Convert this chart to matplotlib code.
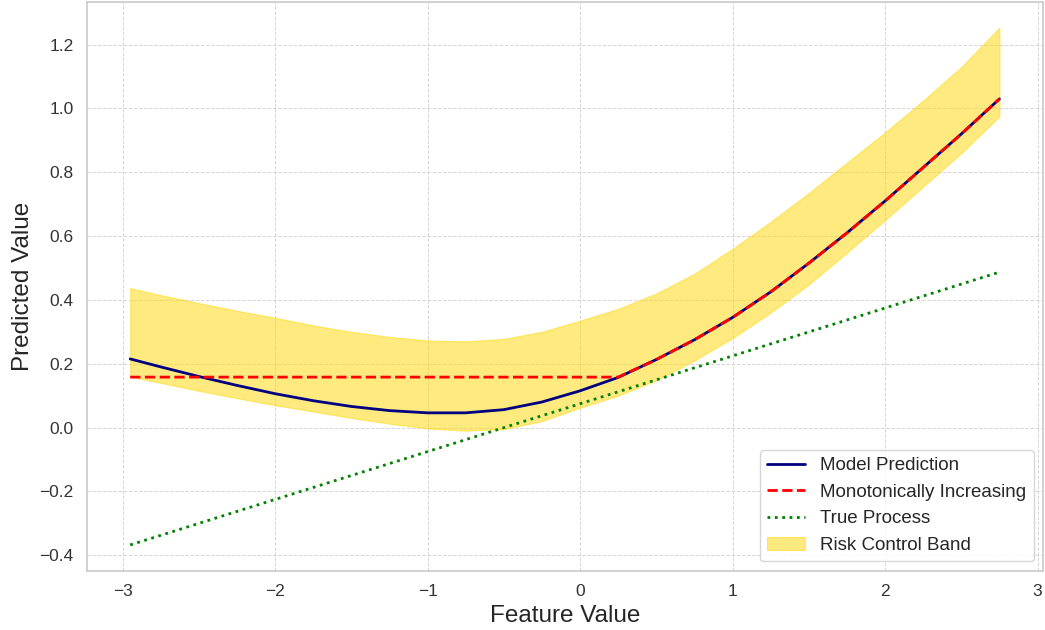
import numpy as np
import matplotlib
matplotlib.use("Agg")
import matplotlib.pyplot as plt
import seaborn as sns

# values
x = [-2.95, -2.75, -2.5, -2.25, -2.0, -1.75, -1.5, -1.25, -1.0, -0.75, -0.5, -0.25,
     0.0, 0.25, 0.5, 0.75, 1.0, 1.25, 1.5, 1.75, 2.0, 2.25, 2.5, 2.75]
model = [0.215, 0.190, 0.160, 0.132, 0.106, 0.084, 0.066, 0.053, 0.046, 0.046, 0.056, 0.080,
         0.115, 0.157, 0.213, 0.275, 0.345, 0.425, 0.515, 0.610, 0.710, 0.815, 0.920, 1.030]
mono = [0.158, 0.158, 0.158, 0.158, 0.158, 0.158, 0.158, 0.158, 0.158, 0.158, 0.158, 0.158,
        0.158, 0.158, 0.213, 0.275, 0.345, 0.425, 0.515, 0.610, 0.710, 0.815, 0.920, 1.030]
upper = [0.437, 0.415, 0.390, 0.366, 0.344, 0.320, 0.300, 0.284, 0.273, 0.270, 0.278, 0.300,
         0.335, 0.372, 0.420, 0.482, 0.560, 0.645, 0.735, 0.830, 0.925, 1.025, 1.130, 1.253]
lower = [0.159, 0.140, 0.115, 0.092, 0.070, 0.050, 0.030, 0.012, -0.003, -0.010, -0.005, 0.020,
         0.062, 0.100, 0.148, 0.210, 0.280, 0.360, 0.448, 0.548, 0.650, 0.755, 0.860, 0.975]
true_x = [-2.95, 2.75]
true_y = [-0.368, 0.487]

sns.set_theme(style="whitegrid")
plt.rcParams['font.family'] = ['Liberation Sans', 'DejaVu Sans']

fig, ax = plt.subplots(figsize=(10.45, 6.3), dpi=100)
ax.fill_between(x, lower, upper, color='gold', alpha=0.5, linewidth=0.8, label='Risk Control Band')
ax.plot(x, model, color='navy', lw=2, label='Model Prediction')
ax.plot(x, mono, color='red', lw=2, ls='--', label='Monotonically Increasing')
ax.plot(true_x, true_y, color='green', lw=2, ls=':', label='True Process')

ax.grid(True, linestyle='--', linewidth=0.7, alpha=0.8)
ax.set_xlabel('Feature Value', fontsize=17.5)
ax.set_ylabel('Predicted Value', fontsize=17.5)
ax.tick_params(labelsize=12.5, labelcolor='#333333')

h, l = ax.get_legend_handles_labels()
order = [1, 2, 3, 0]
ax.legend([h[i] for i in order], [l[i] for i in order], loc='lower right', fontsize=13.5)

plt.subplots_adjust(left=0.083, right=0.998, top=0.997, bottom=0.094)
plt.savefig('out.png')
